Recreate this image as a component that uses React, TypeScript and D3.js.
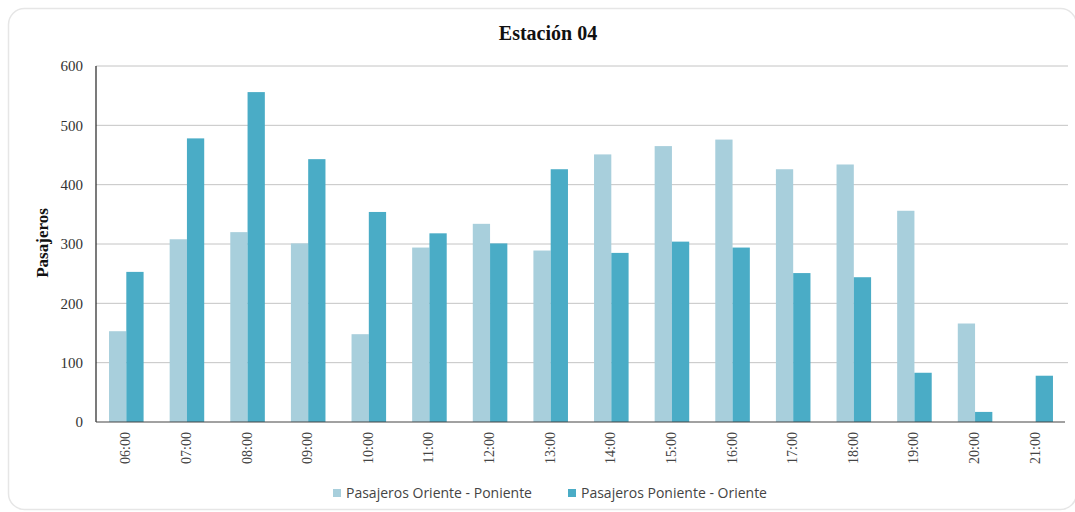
import React from "react";
import * as d3 from "d3";

const categories = ["06:00","07:00","08:00","09:00","10:00","11:00","12:00","13:00","14:00","15:00","16:00","17:00","18:00","19:00","20:00","21:00"];
const orientePoniente = [153, 308, 320, 301, 148, 294, 334, 289, 451, 465, 476, 426, 434, 356, 166, 0];
const ponienteOriente = [253, 478, 556, 443, 354, 318, 301, 426, 285, 304, 294, 251, 244, 83, 17, 78];
const seriesNames = ["Pasajeros Oriente - Poniente", "Pasajeros Poniente - Oriente"];
const seriesColors = ["#a8cfdc", "#4aacc6"];
const yTicks = [0, 100, 200, 300, 400, 500, 600];
const title = "Estación 04";
const yLabel = "Pasajeros";

export default function App() {
  const W = 1075, H = 512;
  const left = 96, right = 1066, top = 66, bottom = 422;
  const x = d3.scaleBand<string>().domain(categories).range([left, right]).paddingInner(0.43).paddingOuter(0.215);
  const x1 = d3.scaleBand<string>().domain(seriesNames).range([0, x.bandwidth()]);
  const y = d3.scaleLinear().domain([0, 600]).range([bottom, top]);
  const series = [orientePoniente, ponienteOriente];
  const serif = "'Liberation Serif', 'Times New Roman', serif";
  const sans = "'Open Sans', 'Noto Sans', sans-serif";

  return (
    <svg width={W} height={H} style={{ position: "absolute", left: 0, top: 0 }}>
      <rect x={8.5} y={8.5} width={1068} height={501} rx={16} fill="#fff" stroke="#e6e6e6" strokeWidth={1.5} />
      <text x={548} y={40} textAnchor="middle" fontFamily={serif} fontWeight="bold" fontSize={20} fill="#111">{title}</text>
      {yTicks.map((t) => (
        <g key={t}>
          {t > 0 && <line x1={left} x2={1068} y1={y(t)} y2={y(t)} stroke="#c4c4c4" strokeWidth={1} />}
          <text x={83} y={y(t)} dy="0.35em" textAnchor="end" fontFamily={serif} fontSize={15} fill="#333">{t}</text>
        </g>
      ))}
      {series.map((vals, si) =>
        categories.map((c, i) => (
          <rect key={si + "-" + c} x={(x(c) as number) + (x1(seriesNames[si]) as number)} y={y(vals[i])} width={x1.bandwidth()} height={bottom - y(vals[i])} fill={seriesColors[si]} />
        ))
      )}
      <line x1={left} x2={left} y1={top} y2={bottom} stroke="#222" strokeWidth={1.2} />
      <line x1={left} x2={1065} y1={bottom} y2={bottom} stroke="#444" strokeWidth={1.2} />
      {categories.map((c) => {
        const cx = (x(c) as number) + x.bandwidth() / 2;
        return (
          <text key={c} transform={`translate(${cx + 4},${432}) rotate(-90)`} textAnchor="end" fontFamily={serif} fontSize={14} fill="#444">{c}</text>
        );
      })}
      <text transform={`translate(48,${243}) rotate(-90)`} textAnchor="middle" fontFamily={serif} fontWeight="bold" fontSize={17} fill="#111">{yLabel}</text>
      {seriesNames.map((s, i) => {
        const lx = i === 0 ? 333 : 568;
        return (
          <g key={s}>
            <rect x={lx} y={489} width={8} height={8} fill={seriesColors[i]} />
            <text x={lx + 13} y={493} dy="0.35em" fontFamily={sans} fontSize={14} fill="#444">{s}</text>
          </g>
        );
      })}
    </svg>
  );
}
